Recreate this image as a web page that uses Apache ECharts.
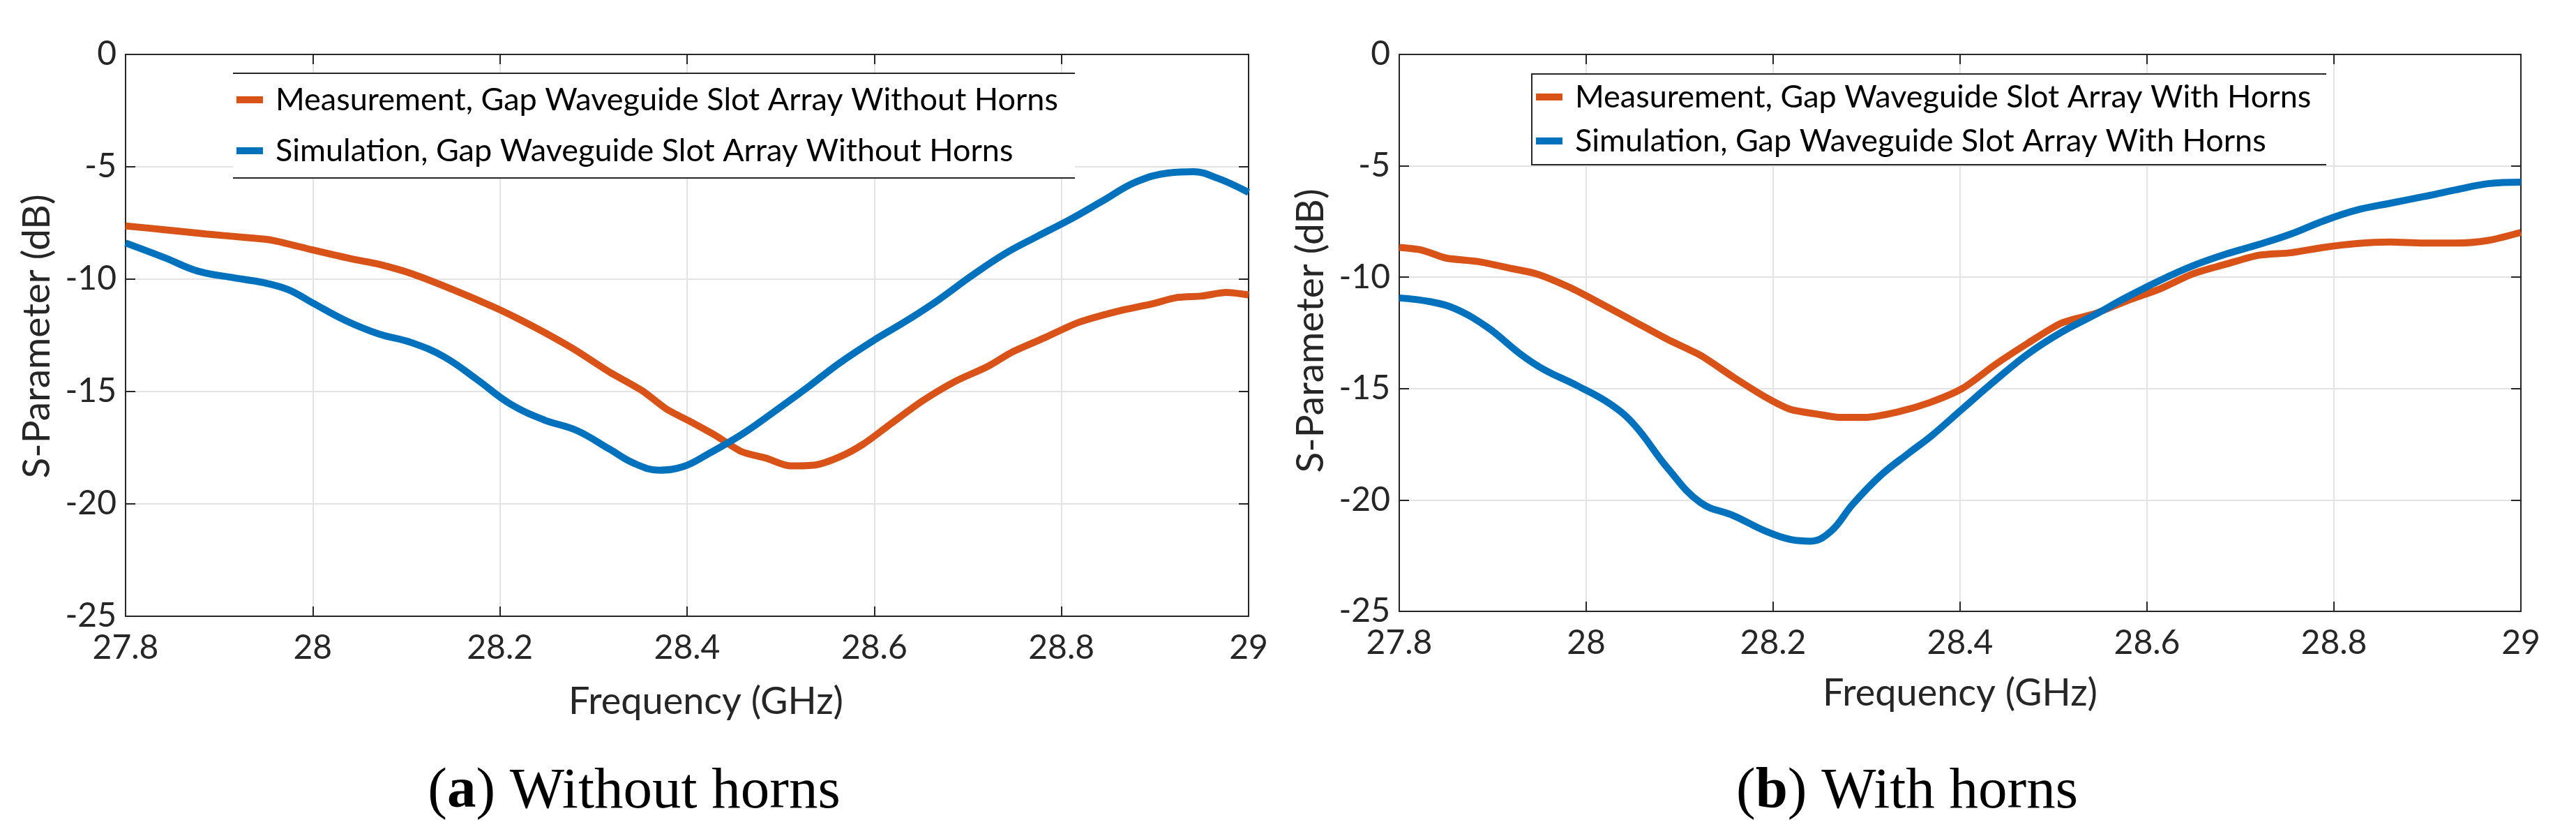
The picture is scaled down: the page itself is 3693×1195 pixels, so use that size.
<!DOCTYPE html>
<html>
<head>
<meta charset="utf-8">
<script src="https://cdn.jsdelivr.net/npm/echarts@6/dist/echarts.min.js"></script>
<style>html,body{margin:0;padding:0;background:#fff;}#c{width:3693px;height:1195px;}</style>
</head>
<body>
<div id="c"></div>
<script>
// ---- data ----
var xTicks = [27.8, 28, 28.2, 28.4, 28.6, 28.8, 29];
var yTicks = [0, -5, -10, -15, -20, -25];

var measNoHornsX = [27.8,27.842,27.886,27.93,27.957,28.0,28.044,28.07,28.106,28.15,28.194,28.22,28.247,28.282,28.317,28.352,28.378,28.405,28.431,28.458,28.484,28.51,28.537,28.563,28.589,28.616,28.651,28.686,28.721,28.748,28.783,28.818,28.862,28.897,28.923,28.95,28.976,29.0];
var measNoHornsY = [-7.63,-7.8,-7.99,-8.15,-8.27,-8.7,-9.12,-9.33,-9.76,-10.47,-11.25,-11.77,-12.36,-13.19,-14.13,-14.96,-15.78,-16.37,-16.97,-17.67,-17.96,-18.31,-18.27,-17.91,-17.32,-16.49,-15.43,-14.56,-13.89,-13.23,-12.59,-11.93,-11.41,-11.1,-10.82,-10.75,-10.59,-10.7];

var simNoHornsX = [27.8,27.842,27.877,27.913,27.948,27.974,28.0,28.035,28.07,28.106,28.141,28.176,28.211,28.247,28.282,28.317,28.343,28.37,28.396,28.422,28.458,28.493,28.528,28.563,28.6,28.633,28.668,28.703,28.739,28.774,28.809,28.844,28.879,28.915,28.941,28.967,29.0];
var simNoHornsY = [-8.39,-9.05,-9.64,-9.92,-10.16,-10.47,-11.06,-11.84,-12.43,-12.83,-13.47,-14.48,-15.55,-16.26,-16.73,-17.56,-18.19,-18.5,-18.34,-17.79,-16.92,-15.9,-14.84,-13.73,-12.71,-11.89,-10.94,-9.88,-8.88,-8.1,-7.35,-6.52,-5.69,-5.27,-5.22,-5.51,-6.14];

var measHornsX = [27.8,27.824,27.85,27.885,27.92,27.947,27.982,28.017,28.052,28.087,28.122,28.158,28.193,28.219,28.245,28.271,28.298,28.333,28.368,28.403,28.438,28.473,28.508,28.544,28.579,28.614,28.649,28.684,28.719,28.754,28.789,28.824,28.86,28.895,28.93,28.965,29.0];
var measHornsY = [-8.66,-8.78,-9.14,-9.3,-9.61,-9.85,-10.45,-11.21,-12.0,-12.79,-13.5,-14.5,-15.41,-15.94,-16.13,-16.29,-16.29,-16.05,-15.62,-14.98,-13.91,-12.95,-12.07,-11.64,-11.05,-10.52,-9.85,-9.42,-9.02,-8.9,-8.66,-8.49,-8.42,-8.47,-8.47,-8.35,-7.99];

var simHornsX = [27.8,27.832,27.859,27.894,27.929,27.955,27.99,28.026,28.052,28.087,28.122,28.158,28.193,28.219,28.24,28.262,28.285,28.315,28.345,28.37,28.403,28.438,28.473,28.508,28.544,28.579,28.614,28.649,28.684,28.719,28.754,28.789,28.824,28.86,28.895,28.93,28.965,29.0];
var simHornsY = [-10.93,-11.09,-11.4,-12.24,-13.43,-14.15,-14.86,-15.7,-16.65,-18.56,-20.11,-20.71,-21.42,-21.78,-21.85,-21.4,-20.2,-18.9,-17.9,-17.1,-15.89,-14.62,-13.43,-12.48,-11.69,-10.88,-10.14,-9.49,-8.97,-8.54,-8.06,-7.47,-6.99,-6.68,-6.39,-6.08,-5.8,-5.73];

var names = [
  'Measurement, Gap Waveguide Slot Array Without Horns',
  'Simulation, Gap Waveguide Slot Array Without Horns',
  'Measurement, Gap Waveguide Slot Array With Horns',
  'Simulation, Gap Waveguide Slot Array With Horns'
];
var captions = ['Without horns', 'With horns'];
var xTitle = 'Frequency (GHz)';
var yTitle = 'S-Parameter (dB)';

// ---- build ----
function pairs(xs, ys){ return xs.map(function(x,i){ return [x, ys[i]]; }); }
var ORANGE = '#D95319', BLUE = '#0072BD', AX = '#262626', GRID = '#e3e3e3';
var SANS = 'Lato, "Open Sans", sans-serif';
var SERIF = '"Liberation Serif", "DejaVu Serif", serif';

function fmtX(v){ return String(parseFloat(v.toFixed(1))); }

function xAxes(gi){
  var base = {type:'value', gridIndex:gi, min:xTicks[0], max:xTicks[xTicks.length-1], interval:0.2,
    axisLine:{show:true, onZero:false, lineStyle:{color:AX, width:2}},
    axisTick:{show:true, inside:true, length:14, lineStyle:{color:AX, width:2}}};
  return [
    Object.assign({}, base, {position:'bottom',
      axisLabel:{show:true, color:AX, fontSize:48, fontFamily:SANS, margin:22, formatter:fmtX},
      splitLine:{show:true, lineStyle:{color:GRID, width:2}}}),
    Object.assign({}, base, {position:'top', axisLabel:{show:false}, splitLine:{show:false}})
  ];
}
function yAxes(gi){
  var base = {type:'value', gridIndex:gi, min:yTicks[yTicks.length-1], max:yTicks[0], interval:5,
    axisLine:{show:true, onZero:false, lineStyle:{color:AX, width:2}},
    axisTick:{show:true, inside:true, length:14, lineStyle:{color:AX, width:2}}};
  return [
    Object.assign({}, base, {position:'left',
      axisLabel:{show:true, color:AX, fontSize:48, fontFamily:SANS, margin:13},
      splitLine:{show:true, lineStyle:{color:GRID, width:2}}}),
    Object.assign({}, base, {position:'right', axisLabel:{show:false}, splitLine:{show:false}})
  ];
}

function line(name, data, color, xi, yi, sm){
  return {type:'line', name:name, data:data, xAxisIndex:xi, yAxisIndex:yi, smooth:sm,
    showSymbol:false, symbol:'none', lineStyle:{color:color, width:10}, itemStyle:{color:color}, z:3};
}

var legendText = {color:'#000', fontSize:45, fontFamily:SANS, lineHeight:46, padding:[0,0,0,13]};

var option = {
  animation:false,
  backgroundColor:'#fff',
  grid:[
    {left:180, right:3693-1790, top:78, bottom:1195-883},
    {left:2006, right:3693-3614, top:78, bottom:1195-876}
  ],
  xAxis: xAxes(0).concat(xAxes(1)),
  yAxis: yAxes(0).concat(yAxes(1)),
  legend:[
    {data:[names[0], names[1]], orient:'vertical', left:339, top:120, icon:'rect', itemWidth:38, itemHeight:10,
      itemGap:27, textStyle:legendText, padding:0},
    {data:[names[2], names[3]], orient:'vertical', left:2202, top:116, icon:'rect', itemWidth:38, itemHeight:10,
      itemGap:17, textStyle:legendText, padding:0}
  ],
  series:[
    line(names[0], pairs(measNoHornsX, measNoHornsY), ORANGE, 0, 0, 0.25),
    line(names[1], pairs(simNoHornsX, simNoHornsY), BLUE, 0, 0, 0.4),
    line(names[2], pairs(measHornsX, measHornsY), ORANGE, 2, 2, 0.25),
    line(names[3], pairs(simHornsX, simHornsY), BLUE, 2, 2, 0.4)
  ],
  graphic:[
    {type:'rect', shape:{x:334, y:106, width:1207, height:148}, style:{fill:'#fff'}, z:1, silent:true},
    {type:'line', shape:{x1:334, y1:105, x2:1541, y2:105}, style:{stroke:AX, lineWidth:2}, z:10},
    {type:'line', shape:{x1:334, y1:255, x2:1541, y2:255}, style:{stroke:AX, lineWidth:2}, z:10},
    {type:'rect', shape:{x:2196, y:106, width:1139, height:130}, style:{fill:'#fff'}, z:1, silent:true},
    {type:'polyline', shape:{points:[[3335,106],[2196,106],[2196,236],[3335,236]]}, style:{stroke:AX, lineWidth:2, fill:null}, z:10},
    {type:'text', x:1012, y:1006, style:{text:xTitle, fontSize:54, fontFamily:SANS, fill:AX, align:'center', verticalAlign:'middle'}},
    {type:'text', x:2810, y:994, style:{text:xTitle, fontSize:54, fontFamily:SANS, fill:AX, align:'center', verticalAlign:'middle'}},
    {type:'text', x:53, y:482, rotation:Math.PI/2, style:{text:yTitle, fontSize:55, fontFamily:SANS, fill:AX, align:'center', verticalAlign:'middle'}},
    {type:'text', x:1879, y:474, rotation:Math.PI/2, style:{text:yTitle, fontSize:55, fontFamily:SANS, fill:AX, align:'center', verticalAlign:'middle'}},
    {type:'text', x:909, y:1135, style:{rich:{b:{fontWeight:'bold', fontSize:83, fontFamily:SERIF, fill:'#000'}, n:{fontSize:83, fontFamily:SERIF, fill:'#000'}},
      text:'{n|(}{b|a}{n|) ' + captions[0] + '}', align:'center', verticalAlign:'middle'}},
    {type:'text', x:2734, y:1135, style:{rich:{b:{fontWeight:'bold', fontSize:83, fontFamily:SERIF, fill:'#000'}, n:{fontSize:83, fontFamily:SERIF, fill:'#000'}},
      text:'{n|(}{b|b}{n|) ' + captions[1] + '}', align:'center', verticalAlign:'middle'}}
  ]
};

var chart = echarts.init(document.getElementById('c'), null, {renderer:'canvas'});
chart.setOption(option);
</script>
</body>
</html>
